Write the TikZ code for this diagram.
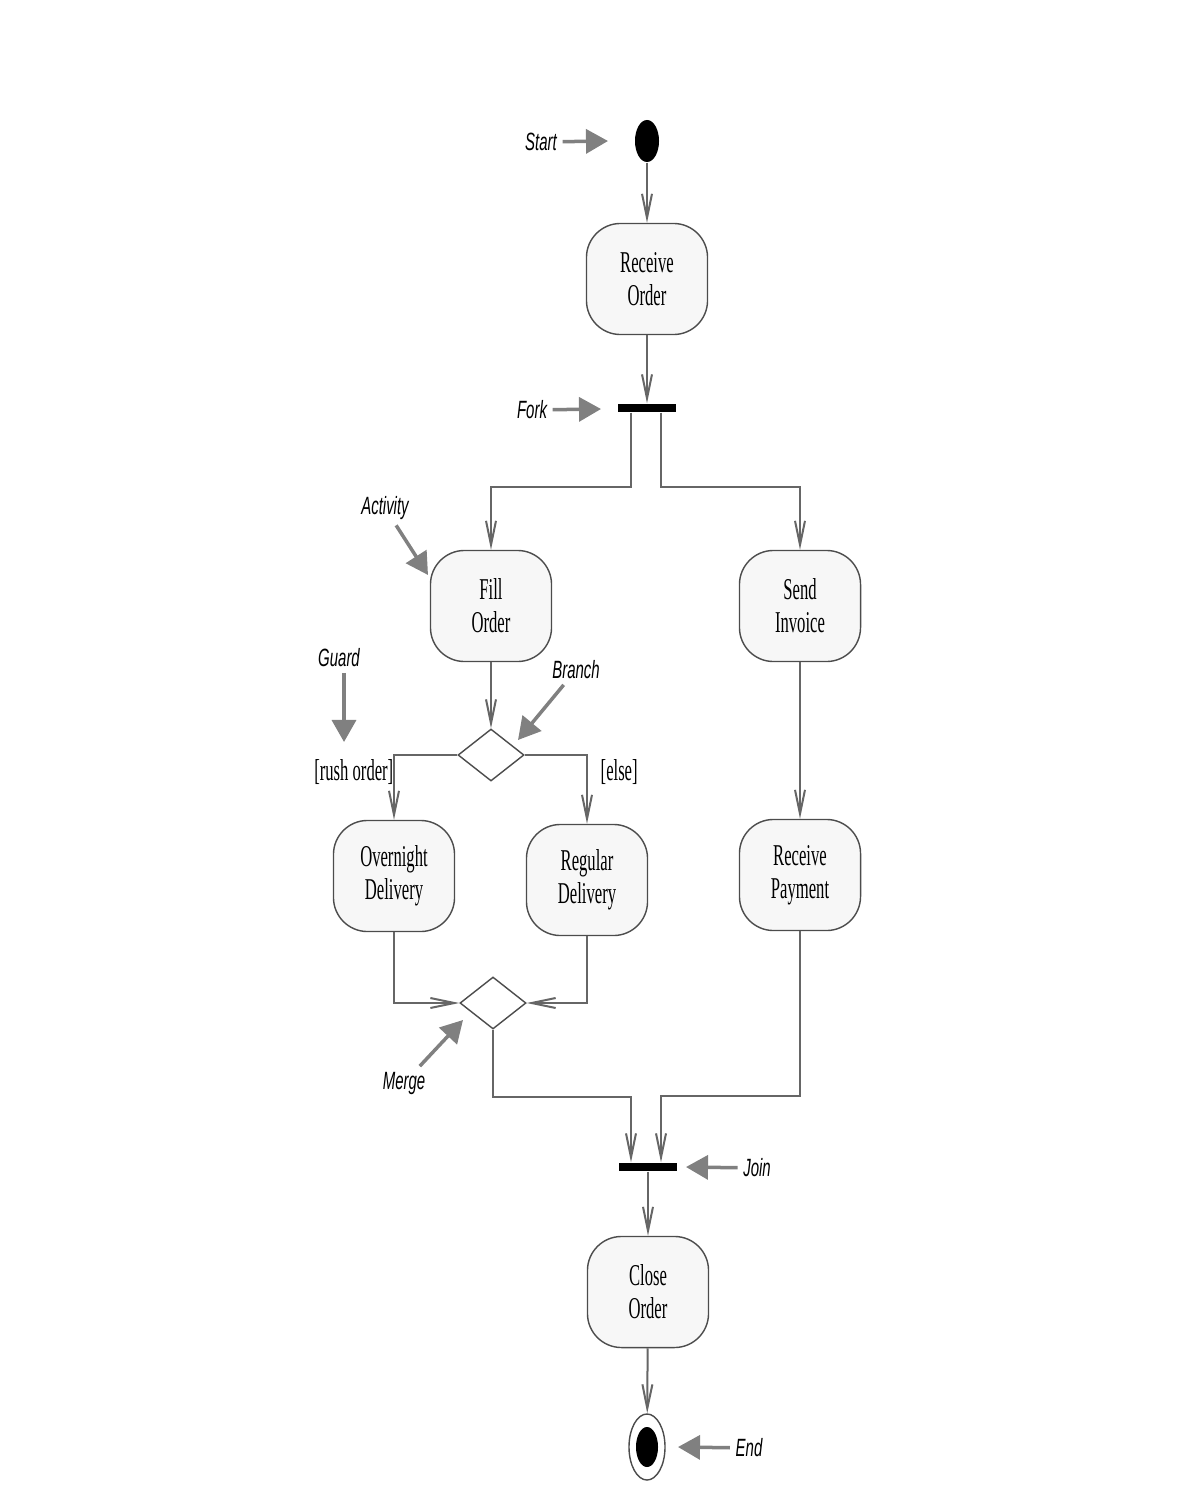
\documentclass[tikz,border=0pt]{standalone}
\usepackage{fontspec}
\usetikzlibrary{shapes.geometric,arrows.meta}
\newfontfamily\boxfont{Liberation Serif}[FakeStretch=0.55]
\newfontfamily\notefont{Liberation Sans}[FakeStretch=0.6]

\begin{document}
\begin{tikzpicture}[x=0.01cm,y=-0.01cm,
    activity/.style={draw=black!70, fill=black!3, rounded corners=0.34cm,
        minimum width=1.21cm, minimum height=1.11cm, inner sep=0pt,
        align=center, font=\boxfont\fontsize{8.6}{9.4}\selectfont},
    decision/.style={diamond, draw=black!70, fill=white, aspect=1.27,
        minimum width=0.66cm, minimum height=0.52cm, inner sep=0pt},
    bar/.style={fill=black, minimum width=0.58cm, minimum height=0.08cm, inner sep=0pt},
    flow/.style={draw=black!60, line width=0.02cm,
        -{Straight Barb[length=0.24cm,width=0.1cm]}},
    note/.style={draw=black!50, line width=0.035cm,
        -{Triangle[length=0.22cm,width=0.24cm]}},
    notetext/.style={inner sep=0.05cm, font=\notefont\itshape\fontsize{7.1}{8}\selectfont},
    guardtext/.style={inner sep=0pt, font=\boxfont\fontsize{8.6}{9.4}\selectfont}]

    \useasboundingbox (0,0) rectangle (1184,1485);

    % --- START AND RECEIVE ---
    \node[ellipse, fill=black, minimum width=0.24cm, minimum height=0.42cm, inner sep=0pt] (start) at (647,141) {};
    \node[activity] (recv) at (647,279) {Receive\\Order};
    \node[bar] (fork) at (647,408) {};

    % --- TWO LANES ---
    \node[activity] (fill) at (491,606) {Fill\\Order};
    \node[activity] (invoice) at (800,606) {Send\\Invoice};
    \node[decision] (branch) at (491,755) {};
    \node[activity] (overnight) at (394,876) {Overnight\\Delivery};
    \node[activity] (regular) at (587,880) {Regular\\Delivery};
    \node[activity] (payment) at (800,875) {Receive\\Payment};
    \node[decision] (merge) at (493,1003) {};

    % --- JOIN AND END ---
    \node[bar] (join) at (648,1167) {};
    \node[activity] (close) at (648,1292) {Close\\Order};
    \node[ellipse, draw=black!70, minimum width=0.36cm, minimum height=0.66cm, inner sep=0pt] (end) at (647,1447) {};
    \node[ellipse, fill=black, minimum width=0.22cm, minimum height=0.40cm, inner sep=0pt] (enddot) at (647,1447) {};

    % Guards
    \node[guardtext, anchor=east] (rushlbl) at (394,772) {[rush order]};
    \node[guardtext, anchor=west] (elselbl) at (600,772) {[else]};

    % Flow
    \draw[flow] (start) -- (recv);
    \draw[flow] (recv) -- (fork);
    \draw[flow] ([xshift=-0.16cm]fork.south) -- ++(0,74) -| (fill);
    \draw[flow] ([xshift=0.14cm]fork.south) -- ++(0,74) -| (invoice);
    \draw[flow] (fill) -- (branch);
    \draw[flow] (branch.west) -| (overnight);
    \draw[flow] (branch.east) -| (regular);
    \draw[flow] (invoice) -- (payment);
    \draw[flow] (overnight) |- (merge.west);
    \draw[flow] (regular) |- (merge.east);
    \draw[flow] (merge.south) -- ++(0,67) -| ([xshift=-0.17cm]join.north);
    \draw[flow] (payment.south) -- ++(0,165) -| ([xshift=0.13cm]join.north);
    \draw[flow] (join) -- (close);
    \draw[flow] (close) -- (end);

    % --- NOTES ---
    \node[notetext] (startlbl) at (541,142) {Start};
    \node[notetext] (forklbl) at (532,410) {Fork};
    \node[notetext] (actlbl) at (385,508) {Activity};
    \node[notetext] (guardlbl) at (339,658) {Guard};
    \node[notetext] (branchlbl) at (576,670) {Branch};
    \node[notetext] (mergelbl) at (404,1083) {Merge};
    \node[notetext] (joinlbl) at (757,1168) {Join};
    \node[notetext] (endlbl) at (749,1448) {End};

    \coordinate (starttip) at (608,141);
    \coordinate (forktip) at (601,409);
    \coordinate (acttip) at (428,575);
    \coordinate (guardtip) at (344,742);
    \coordinate (branchtip) at (518,740);
    \coordinate (mergetip) at (463,1020);
    \coordinate (jointip) at (686,1167);
    \coordinate (endtip) at (678,1447);

    \foreach \lbl in {start, fork, act, branch, merge, join, end}
        \draw[note] (\lbl lbl) -- (\lbl tip);
    \draw[note] (guardlbl.south -| guardtip) -- (guardtip);

\end{tikzpicture}
\end{document}
